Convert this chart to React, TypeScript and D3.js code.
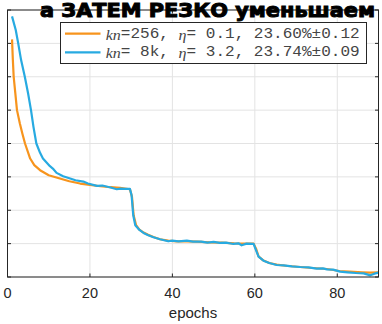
import React from 'react';
import * as d3 from 'd3';

// orange run: kn=256
const orangeEpochs = [1.1, 1.3, 1.5, 1.9, 2.3, 3.0, 3.6, 4.25, 5.5, 6.5, 7.9, 10, 12.7, 15, 17.6, 20, 22.5, 25, 27.3, 29.7, 30.2, 30.6, 31.2, 32, 33, 34, 35.4, 37, 39, 41, 43.5, 46, 49, 52, 55, 58, 59.7, 60.3, 60.9, 62, 63.5, 65.3, 68, 71, 74, 77.5, 80.5, 83, 86, 88, 90];
const orangeValues = [7.12, 6.5, 6.0, 5.5, 5.0, 4.6, 4.3, 4.0, 3.55, 3.35, 3.2, 3.05, 2.95, 2.87, 2.8, 2.76, 2.72, 2.69, 2.67, 2.63, 2.4, 1.85, 1.55, 1.42, 1.33, 1.27, 1.2, 1.13, 1.09, 1.07, 1.07, 1.06, 1.04, 1.03, 1.01, 1.0, 1.0, 0.85, 0.62, 0.5, 0.42, 0.37, 0.33, 0.3, 0.27, 0.24, 0.18, 0.16, 0.14, 0.13, 0.14];

// blue run: kn=8k
const blueEpochs = [1.1, 2.0, 2.6, 3.3, 4.2, 5.0, 5.7, 6.3, 7.0, 7.9, 8.6, 9.2, 10.3, 11, 11.9, 13.5, 15.2, 16.5, 18.4, 19.5, 21.7, 23, 25, 26.5, 27.5, 28.5, 29.7, 30.1, 30.5, 31, 32, 33, 34, 35.4, 37, 39, 40, 41.5, 43.5, 45, 47, 48.5, 50, 51.5, 53, 54.8, 56, 56.8, 58, 59.7, 60.3, 60.9, 62.1, 63.5, 65.3, 67, 69, 71, 73, 75, 76.5, 77.5, 79, 80.7, 82.5, 84.5, 86.4, 88, 89, 90];
const blueValues = [7.81, 7.4, 7.0, 6.5, 6.0, 5.5, 5.0, 4.5, 4.0, 3.72, 3.55, 3.47, 3.32, 3.25, 3.12, 3.02, 2.95, 2.9, 2.86, 2.8, 2.73, 2.74, 2.68, 2.63, 2.65, 2.64, 2.64, 2.45, 1.85, 1.55, 1.41, 1.32, 1.26, 1.19, 1.13, 1.07, 1.09, 1.07, 1.09, 1.06, 1.06, 1.03, 1.05, 1.02, 1.03, 0.99, 1.01, 0.95, 1.0, 0.99, 0.8, 0.61, 0.49, 0.42, 0.36, 0.35, 0.32, 0.3, 0.29, 0.25, 0.26, 0.23, 0.22, 0.16, 0.14, 0.12, 0.11, 0.05, 0.1, 0.13];

const xTicks = [0, 20, 40, 60, 80];
const yTicks = [0, 1, 2, 3, 4, 5, 6, 7, 8];

const legendRows = [
  { color: '#f7941d', kn: '=256, ', eta: '= 0.1, 23.60%±0.12' },
  { color: '#27aae1', kn: '= 8k, ', eta: '= 3.2, 23.74%±0.09' },
];

const W = 382;
const H = 324;
const left = 7.5, right = 378.5, top = 10, bottom = 277;

export default function App() {
  const x = d3.scaleLinear().domain([0, 90]).range([left, right]);
  const y = d3.scaleLinear().domain([0, 8]).range([bottom, top]);
  const line = d3.line<[number, number]>().x(d => x(d[0])).y(d => y(d[1]));
  const orange = orangeEpochs.map((e, i) => [e, orangeValues[i]] as [number, number]);
  const blue = blueEpochs.map((e, i) => [e, blueValues[i]] as [number, number]);
  const axisColor = '#262626';

  return (
    <svg width={W} height={H} style={{ position: 'absolute', left: 0, top: 0, background: '#fff' }}>
      {/* grid */}
      {xTicks.map(t => (
        <line key={'gx' + t} x1={x(t)} x2={x(t)} y1={top} y2={bottom} stroke="#e3e3e3" strokeWidth={1} />
      ))}
      {yTicks.map(t => (
        <line key={'gy' + t} x1={left} x2={right} y1={y(t)} y2={y(t)} stroke="#e3e3e3" strokeWidth={1} />
      ))}

      <path d={line(orange) || ''} fill="none" stroke="#f7941d" strokeWidth={2.2} strokeLinejoin="round" />
      <path d={line(blue) || ''} fill="none" stroke="#27aae1" strokeWidth={2.2} strokeLinejoin="round" />

      {/* box + ticks */}
      <rect x={left} y={top} width={right - left} height={bottom - top} fill="none" stroke={axisColor} strokeWidth={1} />
      {xTicks.map(t => (
        <g key={'tx' + t}>
          <line x1={x(t)} x2={x(t)} y1={bottom} y2={bottom - 3.5} stroke={axisColor} />
          <line x1={x(t)} x2={x(t)} y1={top} y2={top + 3.5} stroke={axisColor} />
          <text x={x(t)} y={293} textAnchor="middle" dominantBaseline="central" fontFamily="Liberation Sans, Arial, sans-serif" fontSize={14.5} fill={axisColor}>{t}</text>
        </g>
      ))}
      {yTicks.map(t => (
        <g key={'ty' + t}>
          <line x1={left} x2={left + 3.5} y1={y(t)} y2={y(t)} stroke={axisColor} />
          <line x1={right} x2={right - 3.5} y1={y(t)} y2={y(t)} stroke={axisColor} />
        </g>
      ))}
      <text x={(left + right) / 2} y={312} textAnchor="middle" dominantBaseline="central" fontFamily="Liberation Sans, Arial, sans-serif" fontSize={15} fill={axisColor}>epochs</text>

      {/* legend */}
      <rect x={60.5} y={22.5} width={306} height={41} fill="#fff" stroke={axisColor} strokeWidth={1} />
      {legendRows.map((r, i) => (
        <g key={'lg' + i}>
          <line x1={65} x2={100.5} y1={33.7 + i * 18.6} y2={33.7 + i * 18.6} stroke={r.color} strokeWidth={2.2} />
          <text x={105.7} y={33.7 + i * 18.6} dominantBaseline="central" fontFamily="Liberation Mono, monospace" fontSize={15.5} fill="#444" textLength={254} lengthAdjust="spacingAndGlyphs">
            <tspan fontFamily="Liberation Serif, serif" fontStyle="italic">kn</tspan>
            <tspan>{r.kn}</tspan>
            <tspan fontFamily="Liberation Serif, serif" fontStyle="italic">η</tspan>
            <tspan>{r.eta}</tspan>
          </text>
        </g>
      ))}

      {/* handwritten note over the top */}
      <text x={40} y={17} fontFamily="DejaVu Sans, sans-serif" fontWeight="bold" fontSize={19} fill="#000" stroke="#000" strokeWidth={1} textLength={335} lengthAdjust="spacingAndGlyphs">а ЗАТЕМ РЕЗКО уменьшаем</text>
    </svg>
  );
}
